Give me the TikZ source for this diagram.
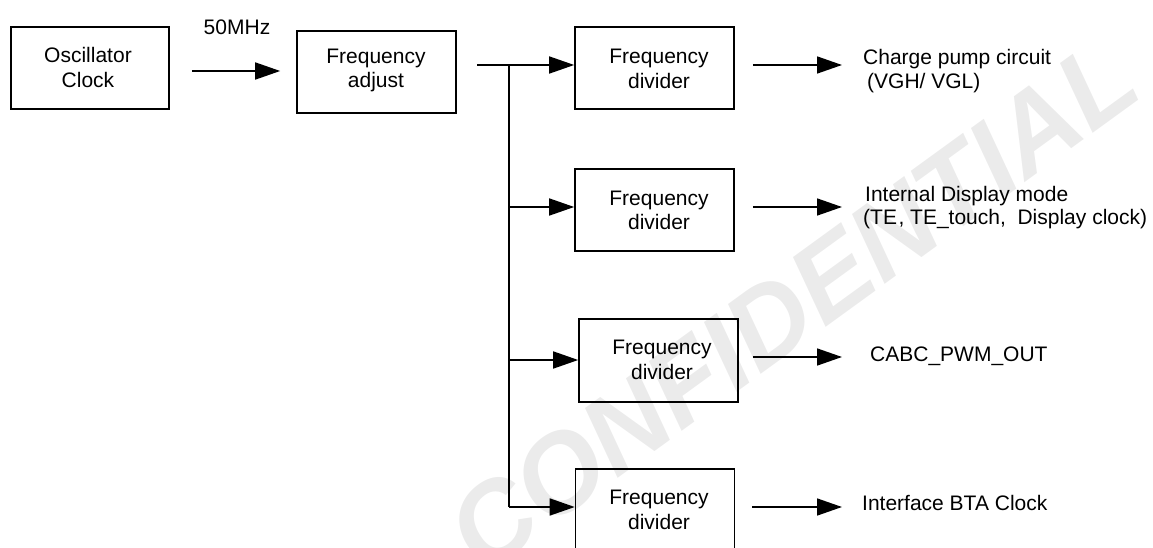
\documentclass[tikz,border=0pt]{standalone}
\usepackage{fontspec}
\setmainfont{Liberation Sans}
\usetikzlibrary{arrows.meta}
\tikzset{
  blk/.style={draw=black, line width=1.6pt, minimum width=159pt, minimum height=82pt, inner sep=0pt},
  lbl/.style={font=\fontsize{21}{24.5}\selectfont, inner sep=0pt, align=center},
  outlbl/.style={font=\fontsize{21}{23.5}\selectfont, inner sep=0pt, align=left, anchor=west},
  wire/.style={line width=1.6pt},
  arr/.style={line width=1.6pt, -{Triangle[length=25pt,width=17pt]}},
  wmark/.style={font=\fontsize{110}{110}\selectfont\bfseries\itshape, text=gray!16, rotate=36, inner sep=0pt}
}
\begin{document}
\begin{tikzpicture}[x=1pt,y=-1pt]
\useasboundingbox (0,0) rectangle (1153,548);
\clip (0,0) rectangle (1153,548);
% watermark
\node[wmark] (wm) at (792,305) {CONFIDENTIAL};
% boxes
\node[blk, minimum width=158pt] (osc) at (90,68) {};
\node[lbl] (osct) at (88,67.5) {Oscillator\\Clock};
\node[blk] (adj) at (376.5,72) {};
\node[lbl] (adjt) at (376,70.5) {Frequency\\adjust};
\node[blk] (d1) at (654.5,68) {};
\node[lbl] (d1t) at (659,69) {Frequency\\divider};
\node[blk] (d2) at (654.5,210) {};
\node[lbl] (d2t) at (659,210.5) {Frequency\\divider};
\node[blk, minimum height=83pt] (d3) at (658.5,360.5) {};
\node[lbl] (d3t) at (662,360) {Frequency\\divider};
\node[blk] (d4) at (655,510) {};
\node[lbl] (d4t) at (659,510) {Frequency\\divider};
% label over first arrow
\node[lbl] (mhz) at (237,27) {50MHz};
% output labels
\node[outlbl] (o1) at (863,71) {Charge pump circuit\\\hspace*{4pt}(VGH/ VGL)};
\node[outlbl] (o2) at (863,207.5) {\hspace*{2pt}Internal Display mode\\(TE\kern1.5pt, TE\_touch,~ Display clock)};
\node[outlbl] (o3) at (870,356) {CABC\_PWM\_OUT};
\node[outlbl] (o4) at (862,503) {Interface BTA Clock};
% coordinates
\coordinate (a0) at (477,65);
\coordinate (t1) at (509,65);
\coordinate (t2) at (509,207);
\coordinate (t3) at (509,360);
\coordinate (t4) at (509,507);
\coordinate (e1) at (842,65);
\coordinate (e2) at (842,207);
\coordinate (e3) at (842,357);
\coordinate (e4) at (842,507);
% connectors
\draw[arr, shorten <=22pt, shorten >=16pt] (osc.east |- 0,71) -- (adj.west |- 0,71);
\draw[arr] (a0) -- (t1 -| d1.west);
\draw[wire] (t1) -- (t4);
\draw[arr] (t2) -- (t2 -| d2.west);
\draw[arr] (t3) -- (t3 -| d3.west);
\draw[arr] (t4) -- (t4 -| d4.west);
\draw[arr, shorten <=18pt] (d1.east |- e1) -- (e1);
\draw[arr, shorten <=18pt] (d2.east |- e2) -- (e2);
\draw[arr, shorten <=14pt] (d3.east |- e3) -- (e3);
\draw[arr, shorten <=17pt] (d4.east |- e4) -- (e4);
\end{tikzpicture}
\end{document}
